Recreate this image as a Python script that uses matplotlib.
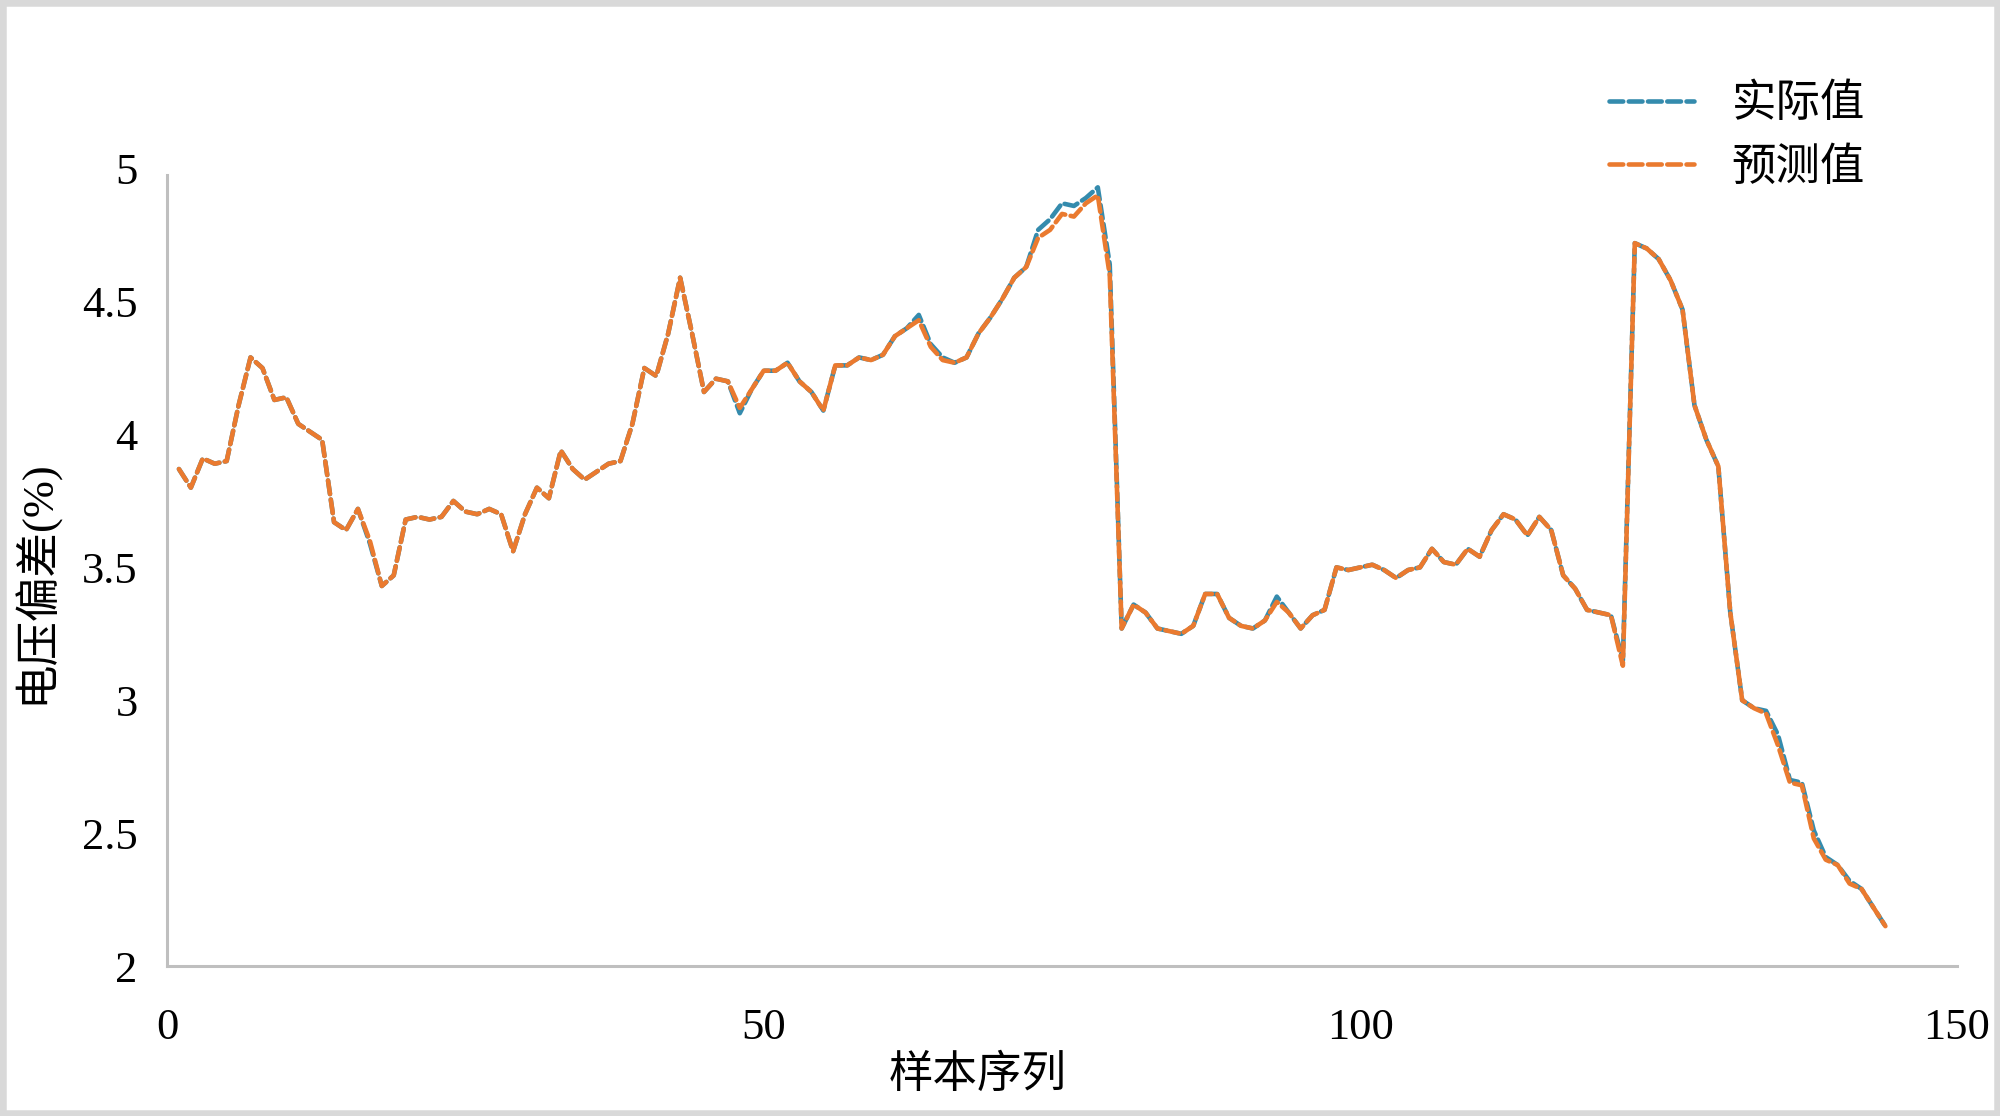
import matplotlib
matplotlib.use("Agg")
import matplotlib.pyplot as plt
from matplotlib.patches import Rectangle
import numpy as np

# ---------------- data ----------------
samples = list(range(1, 145))

actual = [
    3.87, 3.80, 3.91, 3.89, 3.90, 4.11, 4.29, 4.25, 4.13, 4.14,
    4.04, 4.01, 3.98, 3.67, 3.64, 3.72, 3.59, 3.43, 3.47, 3.68,
    3.69, 3.68, 3.69, 3.75, 3.71, 3.70, 3.72, 3.70, 3.56, 3.70,
    3.80, 3.76, 3.94, 3.87, 3.83, 3.86, 3.89, 3.90, 4.04, 4.25,
    4.22, 4.38, 4.59, 4.38, 4.16, 4.21, 4.20, 4.08, 4.17, 4.24,
    4.24, 4.27, 4.20, 4.16, 4.09, 4.26, 4.26, 4.29, 4.28, 4.30,
    4.37, 4.40, 4.45, 4.34, 4.29, 4.27, 4.29, 4.38, 4.44, 4.51,
    4.59, 4.63, 4.77, 4.81, 4.87, 4.86, 4.89, 4.93, 4.64, 3.27,
    3.36, 3.33, 3.27, 3.26, 3.25, 3.28, 3.40, 3.40, 3.31, 3.28,
    3.27, 3.30, 3.39, 3.33, 3.27, 3.32, 3.34, 3.50, 3.49, 3.50,
    3.51, 3.49, 3.46, 3.49, 3.50, 3.57, 3.52, 3.51, 3.57, 3.54,
    3.64, 3.70, 3.68, 3.62, 3.69, 3.64, 3.47, 3.42, 3.34, 3.33,
    3.32, 3.15, 4.72, 4.70, 4.66, 4.58, 4.47, 4.11, 3.98, 3.88,
    3.33, 3.00, 2.97, 2.96, 2.87, 2.70, 2.69, 2.51, 2.41, 2.38,
    2.32, 2.29, 2.22, 2.15,
]

predicted = [
    3.87, 3.80, 3.91, 3.89, 3.90, 4.11, 4.29, 4.25, 4.13, 4.14,
    4.04, 4.01, 3.98, 3.67, 3.64, 3.72, 3.60, 3.43, 3.47, 3.68,
    3.69, 3.68, 3.69, 3.75, 3.71, 3.70, 3.72, 3.70, 3.56, 3.70,
    3.80, 3.76, 3.94, 3.87, 3.83, 3.86, 3.89, 3.90, 4.04, 4.25,
    4.22, 4.38, 4.59, 4.38, 4.16, 4.21, 4.20, 4.10, 4.17, 4.24,
    4.24, 4.27, 4.20, 4.16, 4.09, 4.26, 4.26, 4.29, 4.28, 4.30,
    4.37, 4.40, 4.43, 4.33, 4.28, 4.27, 4.29, 4.38, 4.44, 4.51,
    4.59, 4.63, 4.74, 4.77, 4.83, 4.82, 4.87, 4.90, 4.60, 3.27,
    3.36, 3.33, 3.27, 3.26, 3.25, 3.28, 3.40, 3.40, 3.31, 3.28,
    3.27, 3.30, 3.37, 3.33, 3.27, 3.32, 3.34, 3.50, 3.49, 3.50,
    3.51, 3.49, 3.46, 3.49, 3.50, 3.57, 3.52, 3.51, 3.57, 3.54,
    3.64, 3.70, 3.68, 3.62, 3.69, 3.64, 3.47, 3.42, 3.34, 3.33,
    3.32, 3.13, 4.72, 4.70, 4.66, 4.58, 4.47, 4.11, 3.98, 3.88,
    3.33, 3.00, 2.97, 2.95, 2.83, 2.69, 2.68, 2.48, 2.40, 2.38,
    2.31, 2.29, 2.22, 2.15,
]

xticks = [0, 50, 100, 150]
xtick_labels = ["0", "50", "100", "150"]
yticks = [2, 2.5, 3, 3.5, 4, 4.5, 5]
ytick_labels = ["2", "2.5", "3", "3.5", "4", "4.5", "5"]
series_labels = ["实际值", "预测值"]
xlabel = "样本序列"
ylabel = "电压偏差(%)"

# ---------------- style ----------------
NUM_FONT = ["Liberation Serif", "DejaVu Serif"]
MIX_FONT = ["Liberation Serif", "Noto Sans CJK SC", "DejaVu Sans"]
BLUE = "#348BAD"
ORANGE = "#EA7A2F"
SPINE = "#BFBFBF"

fig = plt.figure(figsize=(20, 11.16), dpi=100)
fig.patch.set_facecolor("white")

ax = fig.add_axes([0.0835, 0.1344, 0.895, 0.7144])
ax.set_facecolor("white")

dash = (0, (3.0, 1.2))
ax.plot(samples, actual, color=BLUE, lw=3.3, linestyle=dash,
        dash_capstyle="round", dash_joinstyle="round",
        label=series_labels[0], zorder=3)
ax.plot(samples, predicted, color=ORANGE, lw=3.3, linestyle=dash,
        dash_capstyle="round", dash_joinstyle="round",
        label=series_labels[1], zorder=4)

ax.set_xlim(0, 150)
ax.set_ylim(2, 5)
ax.set_xticks(xticks)
ax.set_xticklabels(xtick_labels)
ax.set_yticks(yticks)
ax.set_yticklabels(ytick_labels)

for lab in ax.get_xticklabels() + ax.get_yticklabels():
    lab.set_family(NUM_FONT)
    lab.set_fontsize(32)
    lab.set_color("black")

ax.tick_params(axis="both", length=0)
ax.tick_params(axis="x", pad=30)
ax.tick_params(axis="y", pad=21)

for s in ["top", "right"]:
    ax.spines[s].set_visible(False)
for s in ["left", "bottom"]:
    ax.spines[s].set_color(SPINE)
    ax.spines[s].set_linewidth(2.2)
ax.spines["left"].set_bounds(2, 4.975)

ax.set_xlabel(xlabel, family=MIX_FONT, fontsize=32, color="black")
ax.set_ylabel(ylabel, family=MIX_FONT, fontsize=32, color="black")
ax.xaxis.label.set_va("center")
ax.yaxis.label.set_va("center")
ax.xaxis.set_label_coords(0.453, -0.137)
ax.yaxis.set_label_coords(-0.074, 0.482)

leg = ax.legend(loc="upper left", bbox_to_anchor=(0.7935, 0.945),
                bbox_transform=fig.transFigure, frameon=False, borderpad=0,
                handlelength=1.9, handletextpad=0.85, labelspacing=0.5,
                prop={"family": MIX_FONT, "size": 32})

# grey border around the whole picture
fig.patches.append(Rectangle((0, 0), 1, 1, transform=fig.transFigure,
                             fill=False, edgecolor="#D9D9D9", linewidth=9,
                             zorder=10))

fig.savefig("out.png", dpi=100, facecolor="white")
